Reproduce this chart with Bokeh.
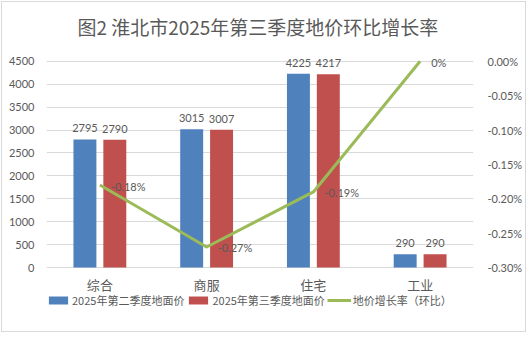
from bokeh.plotting import figure
from bokeh.models import (ColumnDataSource, FactorRange, Range1d, LinearAxis, FixedTicker,
                          CustomJSTickFormatter, Legend, LegendItem)
from bokeh.transform import dodge
from bokeh.core.properties import value
from bokeh.embed import file_html
from bokeh.resources import INLINE

# ---- data ----
categories = ["综合", "商服", "住宅", "工业"]
q2_prices = [2795, 3015, 4225, 290]
q3_prices = [2790, 3007, 4217, 290]
growth_pct = [-0.18, -0.27, -0.19, 0.0]
growth_labels = ["-0.18%", "-0.27%", "-0.19%", "0%"]
left_ticks = [0, 500, 1000, 1500, 2000, 2500, 3000, 3500, 4000, 4500]
right_ticks = [0.0, -0.05, -0.10, -0.15, -0.20, -0.25, -0.30]
series_names = ["2025年第二季度地面价", "2025年第三季度地面价", "地价增长率（环比）"]
title_text = "图2  淮北市2025年第三季度地价环比增长率"

TXT = "#595959"
CJK = "Noto Sans CJK SC"
NUM = "Lato"

src = ColumnDataSource(dict(
    cat=categories, q2=q2_prices, q3=q3_prices, g=growth_pct,
    q2l=[str(v) for v in q2_prices], q3l=[str(v) for v in q3_prices], gl=growth_labels,
))

# The plotting frame is extended above the top gridline (so top labels are not
# clipped) and below zero (so category labels and legend can sit inside it).
LEFT_TOP = 4800
LEFT_BOTTOM = -4500 * 64 / 210
R_PER_L = 0.30 / 4500
RIGHT_TOP = -0.30 + LEFT_TOP * R_PER_L
RIGHT_BOTTOM = -0.30 + LEFT_BOTTOM * R_PER_L

p = figure(x_range=FactorRange(*categories), y_range=Range1d(LEFT_BOTTOM, LEFT_TOP),
           width=525, height=331, output_backend="svg", toolbar_location=None,
           min_border_left=44, min_border_right=54, min_border_top=40, min_border_bottom=3)
p.styles = {"border": "1px solid #d9d9d9", "margin": "1px"}
p.outline_line_color = None
p.background_fill_color = "white"
p.border_fill_color = "white"

p.title.text = title_text
p.title.align = "center"
p.title.offset = 13
p.title.standoff = 16
p.title.text_font = CJK
p.title.text_font_size = "19px"
p.title.text_font_style = "normal"
p.title.text_color = TXT

p.extra_y_ranges = {"pct": Range1d(RIGHT_BOTTOM, RIGHT_TOP)}

# axes
ya = p.yaxis[0]
ya.ticker = FixedTicker(ticks=left_ticks)
ya.axis_line_color = None
ya.major_tick_line_color = None
ya.minor_tick_line_color = None
ya.major_label_standoff = 6
ya.major_label_text_font = NUM
ya.major_label_text_font_size = "11px"
ya.major_label_text_color = TXT

ra = LinearAxis(y_range_name="pct", ticker=FixedTicker(ticks=right_ticks),
                formatter=CustomJSTickFormatter(code="return tick.toFixed(2) + '%';"))
ra.axis_line_color = None
ra.major_tick_line_color = None
ra.minor_tick_line_color = None
ra.major_label_standoff = 8
ra.major_label_text_font = NUM
ra.major_label_text_font_size = "11px"
ra.major_label_text_color = TXT
p.add_layout(ra, "right")

p.xaxis.visible = False

p.xgrid.grid_line_color = None
p.ygrid.ticker = FixedTicker(ticks=left_ticks)
p.ygrid.grid_line_color = "#d9d9d9"
p.ygrid.grid_line_width = 1

# bars
b1 = p.vbar(x=dodge("cat", -0.14, range=p.x_range), top="q2", bottom=0, width=0.215,
            source=src, fill_color="#4F81BD", line_color=None)
b2 = p.vbar(x=dodge("cat", 0.14, range=p.x_range), top="q3", bottom=0, width=0.215,
            source=src, fill_color="#C0504D", line_color=None)

# line
ln = p.line(x="cat", y="g", y_range_name="pct", source=src,
            line_color="#9BBB59", line_width=3, line_join="round")

# category labels under the zero line
p.text(x="cat", y=0, text="cat", source=src, text_align="center", text_baseline="middle",
       y_offset=17, text_font=value(CJK), text_font_size="13px", text_color=TXT)

# data labels
for off, col in ((-0.14, "q2"), (0.14, "q3")):
    p.text(x=dodge("cat", off, range=p.x_range), y=col, text=col + "l", source=src,
           text_align="center", text_baseline="bottom", y_offset=-7,
           text_font=value(NUM), text_font_size="11px", text_color=TXT)

p.text(x="cat", y="g", y_range_name="pct", text="gl", source=src,
       text_align="left", text_baseline="middle", x_offset=11, y_offset=1,
       text_font=value(NUM), text_font_size="11px", text_color=TXT)

legend = Legend(items=[LegendItem(label=series_names[0], renderers=[b1]),
                       LegendItem(label=series_names[1], renderers=[b2]),
                       LegendItem(label=series_names[2], renderers=[ln])],
                orientation="horizontal", location=(0, 22),
                glyph_width=24, glyph_height=10, label_standoff=2, spacing=2,
                padding=0, margin=0, border_line_color=None, background_fill_alpha=0,
                label_height=10, label_text_font=CJK, label_text_font_size="11px",
                label_text_color=TXT)
p.add_layout(legend)

open("out.html", "w").write(file_html(p, INLINE))
